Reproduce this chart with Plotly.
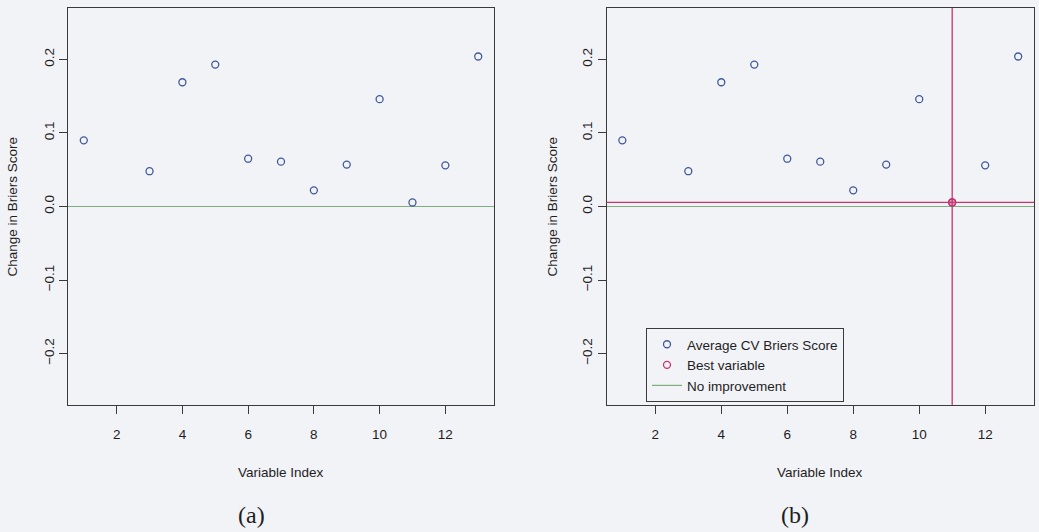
import plotly.graph_objects as go

# Data
var_index = [1, 3, 4, 5, 6, 7, 8, 9, 10, 11, 12, 13]
brier_change = [0.090, 0.048, 0.169, 0.193, 0.065, 0.061, 0.022, 0.057, 0.146, 0.0055, 0.056, 0.204]
x_ticks = [2, 4, 6, 8, 10, 12]
y_ticks = [-0.2, -0.1, 0.0, 0.1, 0.2]
no_improvement = 0.0
panel_labels = ["(a)", "(b)"]
x_title = "Variable Index"
y_title = "Change in Briers Score"
legend_names = ["Average CV Briers Score", "Best variable", "No improvement"]

best_pos = min(range(len(brier_change)), key=lambda i: brier_change[i])
best_x = var_index[best_pos]
best_y = brier_change[best_pos]

BLUE = "#41589a"
RED = "#c8356f"
GREEN = "#7fae7f"
AXC = "#3a3a3a"
BG = "#f2f3f7"
FONT = "Liberation Sans"
TXT = "#1e1e1e"
FS = 13.5

fig = go.Figure()

xr = [0.52, 13.48]
yr = [-0.27, 0.27]
doms = [[68 / 1039, 494 / 1039], [606.5 / 1039, 1034 / 1039]]
ydom = [1 - 405 / 532, 1 - 8 / 532]

for k in range(2):
    xa = "x" if k == 0 else "x2"
    ya = "y" if k == 0 else "y2"
    fig.add_trace(go.Scatter(
        x=var_index, y=brier_change, mode="markers", xaxis=xa, yaxis=ya,
        name=legend_names[0], showlegend=(k == 1),
        marker=dict(symbol="circle-open", size=7, color=BLUE, line=dict(width=1.3, color=BLUE)),
    ))
    fig.add_shape(type="line", xref=f"{xa} domain", yref=ya, x0=0, x1=1,
                  y0=no_improvement, y1=no_improvement,
                  line=dict(color=GREEN, width=1.2), layer="below")

fig.add_shape(type="line", xref="x2 domain", yref="y2", x0=0, x1=1, y0=best_y, y1=best_y,
              line=dict(color=RED, width=1.3))
fig.add_shape(type="line", xref="x2", yref="y2 domain", x0=best_x, x1=best_x, y0=0, y1=1,
              line=dict(color=RED, width=1.3))
fig.add_trace(go.Scatter(
    x=[best_x], y=[best_y], mode="markers", xaxis="x2", yaxis="y2",
    name=legend_names[1], showlegend=False,
    marker=dict(symbol="circle", size=7, color="rgba(200,53,111,0.45)", line=dict(width=1.2, color=RED)),
))
fig.add_trace(go.Scatter(
    x=[None], y=[None], mode="markers", xaxis="x2", yaxis="y2", name=legend_names[1],
    marker=dict(symbol="circle-open", size=7, color=RED, line=dict(width=1.3, color=RED)),
))
fig.add_trace(go.Scatter(
    x=[None], y=[None], mode="lines", xaxis="x2", yaxis="y2", name=legend_names[2],
    line=dict(color=GREEN, width=1.2),
))

axis_common = dict(showline=True, linecolor=AXC, linewidth=1, mirror=True, ticks="outside",
                   ticklen=8, tickcolor=AXC, tickwidth=1, showgrid=False, zeroline=False,
                   tickfont=dict(family=FONT, size=FS, color=TXT))

fig.update_layout(
    width=1039, height=532,
    margin=dict(l=0, r=0, t=0, b=0),
    paper_bgcolor=BG, plot_bgcolor=BG,
    font=dict(family=FONT, size=FS, color=TXT),
    xaxis=dict(domain=doms[0], range=xr, tickvals=x_ticks, anchor="y", ticklabelstandoff=9, **axis_common),
    yaxis=dict(domain=ydom, range=yr, tickvals=y_ticks, tickformat=".1f", tickangle=-90, anchor="x",
               ticklabelstandoff=0, **axis_common),
    xaxis2=dict(domain=doms[1], range=xr, tickvals=x_ticks, anchor="y2", ticklabelstandoff=9, **axis_common),
    yaxis2=dict(domain=ydom, range=yr, tickvals=y_ticks, tickformat=".1f", tickangle=-90, anchor="x2",
                ticklabelstandoff=0, **axis_common),
    legend=dict(x=646 / 1039, y=1 - 328 / 532, xanchor="left", yanchor="top",
                bgcolor=BG, bordercolor=AXC, borderwidth=1,
                font=dict(family=FONT, size=FS, color=TXT), tracegroupgap=0,
                itemwidth=30),
    showlegend=True,
)

title_x = [281 / 1039, 820 / 1039]
label_x = [251 / 1039, 795 / 1039]
ylab_x = [12 / 1039, 552 / 1039]
for k in range(2):
    fig.add_annotation(text=x_title, xref="paper", yref="paper", x=title_x[k], y=1 - 472 / 532,
                       xanchor="center", yanchor="middle",
                       showarrow=False, font=dict(family=FONT, size=FS, color=TXT))
    fig.add_annotation(text=panel_labels[k], xref="paper", yref="paper", x=label_x[k], y=1 - 515 / 532,
                       xanchor="center", yanchor="middle",
                       showarrow=False, font=dict(family="Liberation Serif", size=24, color=TXT))
    fig.add_annotation(text=y_title, xref="paper", yref="paper", x=ylab_x[k],
                       y=(ydom[0] + ydom[1]) / 2, textangle=-90, showarrow=False,
                       xanchor="center", yanchor="middle",
                       font=dict(family=FONT, size=FS, color=TXT))

fig.write_html("out.html")
